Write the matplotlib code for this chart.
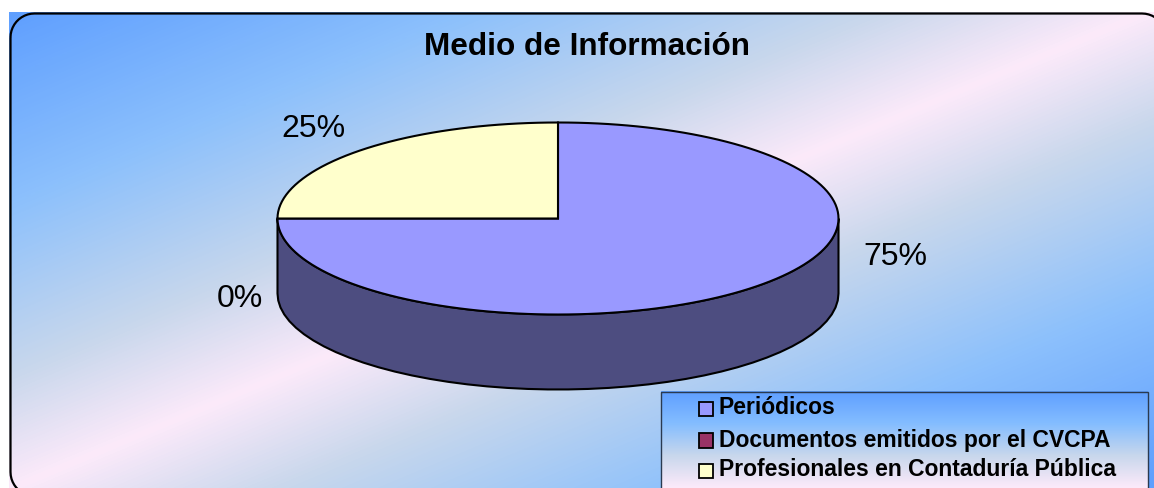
import numpy as np
import matplotlib
matplotlib.use("Agg")
import matplotlib.pyplot as plt
from matplotlib.colors import LinearSegmentedColormap
from matplotlib.patches import Polygon, Rectangle

title = "Medio de Información"
categories = ["Periódicos", "Documentos emitidos por el CVCPA", "Profesionales en Contaduría Pública"]
values = [75, 0, 25]
colors = ["#9999ff", "#993366", "#ffffcc"]
side_colors = ["#4d4d80", "#4d1a33", "#808066"]
label_pos = [(895, 257), (240, 299), (313, 129)]

W, H = 1154, 489
plt.rcParams["font.family"] = ["Liberation Sans", "DejaVu Sans"]
fig = plt.figure(figsize=(W / 100, H / 100), dpi=100)
ax = fig.add_axes([0, 0, 1, 1])
ax.axis("off")

# background gradient
cmap = LinearSegmentedColormap.from_list("bg", [
    (0.0, "#5f9fff"), (0.2, "#8cc0fc"), (0.38, "#c8d7ec"), (0.5, "#fceafa"),
    (0.62, "#c8d7ec"), (0.8, "#8cc0fc"), (1.0, "#5f9fff")])
xx, yy = np.meshgrid(np.arange(9, W + 1), np.arange(13, H + 1))
t = (0.387 * xx + 0.922 * yy - 15) / (897 - 15)
ax.imshow(t, extent=(9, W, H, 13), cmap=cmap, vmin=0, vmax=1, aspect="auto", zorder=0, interpolation="bilinear")

# rounded frame
def rounded(x0, y0, x1, y1, r):
    th = np.linspace(0, np.pi / 2, 12)
    s, c = np.sin(th), np.cos(th)
    return np.r_[
        np.c_[x0 + r - r * c, y0 + r - r * s],
        np.c_[x1 - r + r * s, y0 + r - r * c],
        np.c_[x1 - r + r * c, y1 - r + r * s],
        np.c_[x0 + r - r * s, y1 - r + r * c],
    ]
ax.add_patch(Polygon(rounded(10.5, 14.5, 1166, 497, 24), closed=True, fc="none", ec="black", lw=1.6, zorder=1))

ax.text(587, 47, title, ha="center", va="center", fontsize=22.7, fontweight="bold", color="black")

# 3D pie
cx, cy, rx, ry, depth = 558, 219.5, 280.5, 96, 75
def pt(a):
    return cx + rx * np.sin(a), cy - ry * np.cos(a)

fracs = np.array(values, float) / sum(values)
edges = np.concatenate([[0], np.cumsum(fracs)]) * 2 * np.pi
# side walls (front half: angle pi/2 .. 3pi/2)
for i in range(len(values)):
    a0, a1 = max(edges[i], np.pi / 2), min(edges[i + 1], 3 * np.pi / 2)
    if a1 <= a0:
        continue
    a = np.linspace(a0, a1, 44)
    x, y = pt(a)
    verts = np.r_[np.c_[x, y], np.c_[x[::-1], y[::-1] + depth]]
    ax.add_patch(Polygon(verts, closed=True, fc=side_colors[i], ec="black", lw=1.5, zorder=2))
# top faces
for i in range(len(values)):
    if values[i] == 0:
        continue
    a = np.linspace(edges[i], edges[i + 1], max(2, int(88 * fracs[i] * 2) + 1))
    x, y = pt(a)
    verts = np.r_[[(cx, cy)], np.c_[x, y]]
    ax.add_patch(Polygon(verts, closed=True, fc=colors[i], ec="black", lw=1.5, zorder=3))

for v, (lx, ly) in zip(values, label_pos):
    ax.text(lx, ly, f"{v}%", ha="center", va="center", fontsize=23, color="black")

# legend
grad = np.linspace(0, 1, 100).reshape(-1, 1)
lcmap = LinearSegmentedColormap.from_list("lg", ["#5f9fff", "#84bdff", "#c8d7ec", "#fceafa"])
ax.imshow(grad, extent=(661, 1148, 489, 392.5), cmap=lcmap, aspect="auto", zorder=4)
ax.add_patch(Rectangle((661, 392.5), 487, 110, fc="none", ec="#2a3a50", lw=1, zorder=5))
for name, col, ys, yt in zip(categories, colors, [402.5, 434, 464.5], [407, 440, 470]):
    ax.add_patch(Rectangle((698.5, ys), 14, 14.5, fc=col, ec="black", lw=1.3, zorder=5))
    ax.text(719, yt, name, ha="left", va="center", fontsize=16.5, fontweight="bold", color="black", zorder=6)

ax.set_xlim(0, W)
ax.set_ylim(H, 0)
fig.savefig("out.png", dpi=100, facecolor="white")
